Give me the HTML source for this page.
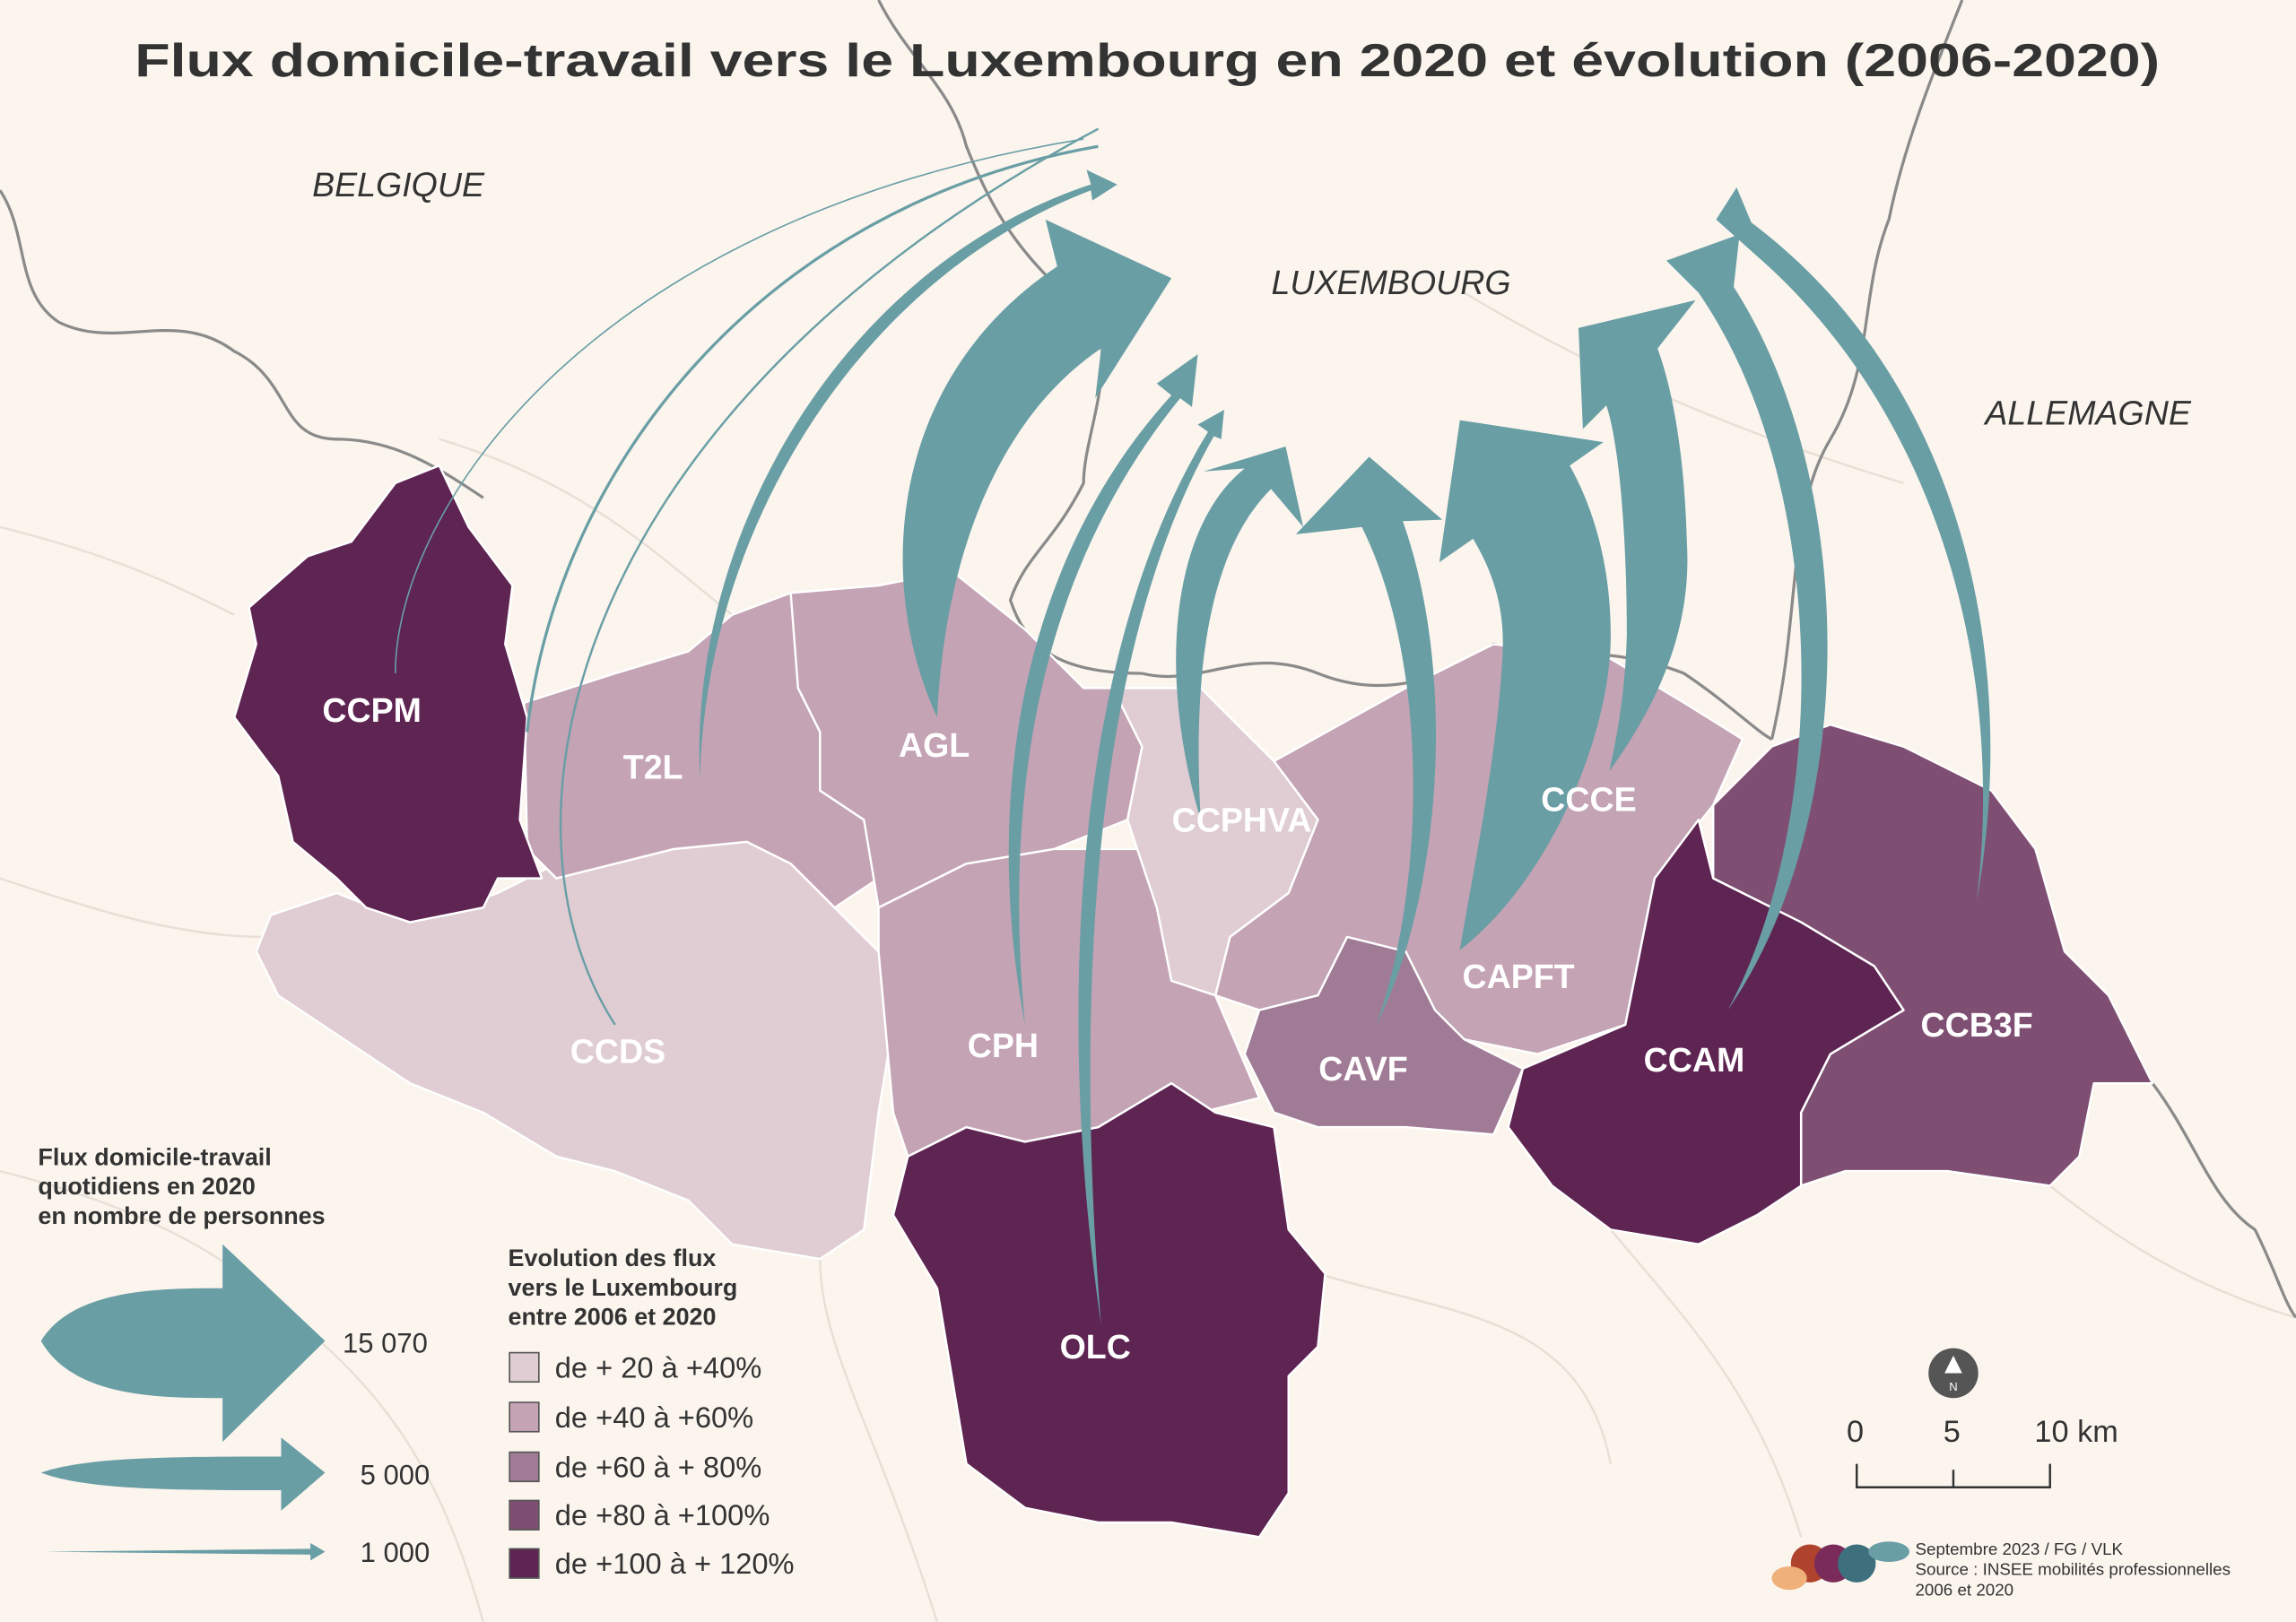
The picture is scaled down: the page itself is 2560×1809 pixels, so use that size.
<!DOCTYPE html>
<html><head><meta charset="utf-8"><style>
html,body{margin:0;padding:0;background:#fbf5ee}
svg{display:block}
text{font-family:"Liberation Sans",sans-serif}
</style></head><body>
<svg width="2560" height="1809" viewBox="0 0 1568 1108" xmlns="http://www.w3.org/2000/svg">
<rect width="1568" height="1108" fill="#fbf5ee"/>
<g fill="none" stroke="#e8e0d6" stroke-width="1.5">
<path d="M0,360 C80,380 120,400 160,420 M0,600 C60,620 120,640 180,640 M0,800 C80,820 150,850 200,900 M200,900 C260,950 300,1000 330,1108 M560,860 C560,920 600,980 640,1108 M900,870 C1000,900 1080,900 1100,1000 M1400,810 C1450,850 1500,880 1568,900 M1100,840 C1150,900 1200,950 1230,1050 M300,300 C400,330 450,380 500,420 M1000,200 C1100,260 1200,300 1300,330"/>
</g>
<g fill="none" stroke="#8a8a8a" stroke-width="2">
<path d="M0,130 C20,160 10,200 40,220 C80,240 120,210 160,240 C200,260 190,300 230,300 C270,300 300,320 330,340"/>
<path d="M600,0 C620,40 650,60 660,100 C680,150 700,180 750,220 C760,260 740,300 740,330 C720,370 700,380 690,410 C700,440 720,460 780,460"/>
<path d="M780,460 C820,470 850,440 900,460 C950,480 990,460 1020,440 C1060,450 1100,440 1150,460 C1180,480 1200,500 1210,505"/>
<path d="M1340,0 C1320,50 1300,100 1290,150 C1270,200 1280,250 1250,300 C1220,350 1230,420 1210,505"/>
<path d="M1470,740 C1500,780 1510,820 1540,840 C1555,870 1560,890 1568,900"/>
</g>
<g stroke="#fff" stroke-width="1.5" stroke-linejoin="round">
<path fill="#dfcdd3" d="M185,625 230,610 280,630 340,610 380,590 420,590 460,580 510,575 540,590 570,620 600,650 610,700 600,760 590,840 560,860 500,850 470,820 420,800 380,790 330,760 280,740 250,720 220,700 190,680 175,650Z"/>
<path fill="#c3a3b4" d="M358,480 420,460 470,445 500,420 540,405 560,420 545,470 560,500 560,540 590,560 600,600 570,620 540,590 510,575 460,580 420,590 380,600 360,580Z"/>
<path fill="#c3a3b4" d="M540,405 600,400 650,390 700,430 740,470 760,470 780,510 770,560 720,580 660,590 620,610 600,620 590,560 560,540 560,500 545,470Z"/>
<path fill="#c3a3b4" d="M600,620 660,590 720,580 790,580 820,620 830,680 860,750 820,760 800,740 750,770 700,780 660,770 620,790 610,760 600,650Z"/>
<path fill="#c3a3b4" d="M870,520 960,470 1020,440 1100,450 1150,480 1190,505 1170,550 1130,600 1120,650 1110,700 1050,720 1000,710 960,690 900,680 860,690 830,680 840,640 880,610 900,560Z"/>
<path fill="#dfcdd3" d="M760,470 820,470 870,520 900,560 880,610 840,640 830,680 800,670 790,620 770,560 780,510Z"/>
<path fill="#a07b95" d="M860,690 900,680 920,640 960,650 980,690 1000,710 1040,730 1020,775 960,770 900,770 870,760 850,720Z"/>
<path fill="#7f4f73" d="M1170,550 1210,510 1250,495 1300,510 1360,540 1390,580 1410,650 1440,680 1470,740 1430,740 1420,790 1400,810 1330,800 1260,800 1230,810 1230,760 1250,720 1300,690 1280,660 1230,630 1170,600Z"/>
<path fill="#5e2452" d="M1040,730 1110,700 1130,600 1160,560 1170,600 1230,630 1280,660 1300,690 1250,720 1230,760 1230,810 1200,830 1160,850 1100,840 1060,810 1030,770Z"/>
<path fill="#5e2452" d="M660,770 700,780 750,770 800,740 830,760 870,770 880,840 905,870 900,920 880,940 880,1020 860,1050 800,1040 750,1040 700,1030 660,1000 650,940 640,880 610,830 620,790Z"/>
<path fill="#5e2452" d="M270,330 300,318 320,360 350,400 345,440 360,490 355,560 370,600 340,600 330,620 280,630 250,620 230,600 200,575 190,530 160,490 175,440 170,415 210,380 240,370Z"/>
</g>
<g fill="#6a9ea5" stroke="none">
<path d="M640,490 C598,400 605,260 722,182 L714,150 L800,190 L748,272 L752,238 C682,285 645,380 640,490Z"/>
<path d="M997,649 C1060,600 1100,500 1100,434 C1100,390 1090,350 1072,318 L1095,302 L997,287 L983,384 L1006,368 C1022,395 1028,420 1026,450 C1022,520 1005,600 997,649Z"/>
<path d="M1099,527 C1140,470 1155,420 1152,370 C1150,300 1140,260 1132,238 L1158,205 L1078,224 L1081,293 L1097,277 C1105,300 1111,360 1111,434 C1110,470 1105,500 1099,527Z"/>
<path d="M940,700 C975,600 975,450 930,360 L885,365 L935,312 L985,355 L958,356 C995,460 985,610 940,700Z"/>
<path d="M820,560 C790,460 800,360 850,320 L822,322 L878,305 L890,360 L868,334 C822,380 815,470 820,560Z"/>
<path d="M1180,690 C1250,560 1250,330 1160,200 L1138,178 L1188,160 L1184,196 C1270,330 1270,560 1180,690Z"/>
<path d="M1350,615 C1370,450 1320,280 1200,175 L1172,150 L1186,128 L1196,152 C1340,260 1380,450 1350,615Z"/>
<path d="M700,700 C670,540 700,380 800,270 L790,262 L818,242 L814,278 L806,272 C710,390 685,540 700,700Z"/>
<path d="M752,905 C722,700 730,450 825,295 L818,290 L836,280 L834,300 L829,298 C742,450 735,700 752,905Z"/>
<path d="M478,532 C470,360 580,180 745,126 L742,116 L763,126 L746,137 L745,130 C588,190 482,360 478,532Z"/>
</g>
<g fill="none" stroke="#6a9ea5">
<path d="M360,500 C380,320 520,140 750,100" stroke-width="2"/>
<path d="M420,700 C330,560 390,280 750,88" stroke-width="1.5"/>
<path d="M270,460 C270,350 400,150 740,95" stroke-width="1"/>
</g>
<g fill="#fff" font-weight="bold" font-size="23" text-anchor="middle">
<text x="254" y="493">CCPM</text><text x="446" y="532">T2L</text><text x="638" y="517">AGL</text>
<text x="848" y="568">CCPHVA</text><text x="1085" y="554">CCCE</text><text x="1037" y="675">CAPFT</text>
<text x="685" y="722">CPH</text><text x="422" y="726">CCDS</text><text x="931" y="738">CAVF</text>
<text x="1157" y="732">CCAM</text><text x="1350" y="708">CCB3F</text><text x="748" y="928">OLC</text>
</g>
<g font-style="italic" font-size="23" fill="#333" text-anchor="middle">
<text x="272" y="134">BELGIQUE</text><text x="950" y="201">LUXEMBOURG</text><text x="1426" y="290">ALLEMAGNE</text>
</g>
<text x="92" y="52" textLength="1383" lengthAdjust="spacingAndGlyphs" font-size="32" font-weight="bold" fill="#333">Flux domicile-travail vers le Luxembourg en 2020 et évolution (2006-2020)</text>
<g font-size="16.5" font-weight="bold" fill="#333">
<text x="26" y="796">Flux domicile-travail</text><text x="26" y="816">quotidiens en 2020</text><text x="26" y="836">en nombre de personnes</text>
<text x="347" y="865">Evolution des flux</text><text x="347" y="885">vers le Luxembourg</text><text x="347" y="905">entre 2006 et 2020</text>
</g>
<g fill="#6a9ea5">
<path d="M28,916 C50,880 110,880 152,880 L152,850 L222,916 L152,985 L152,955 C110,955 50,955 28,916Z"/>
<path d="M28,1006 C60,995 120,995 192,995 L192,982 L222,1006 L192,1032 L192,1018 C120,1018 60,1018 28,1006Z"/>
<path d="M30,1060 L212,1058 L212,1054 L222,1060 L212,1066 L212,1062Z"/>
</g>
<g font-size="19" fill="#333">
<text x="234" y="924">15 070</text><text x="246" y="1014">5 000</text><text x="246" y="1067">1 000</text>
</g>
<g stroke="#555" stroke-width="1">
<rect x="348" y="924" width="20" height="20" fill="#dfcdd3"/>
<rect x="348" y="958" width="20" height="20" fill="#c3a3b4"/>
<rect x="348" y="992" width="20" height="20" fill="#a07b95"/>
<rect x="348" y="1025" width="20" height="20" fill="#7f4f73"/>
<rect x="348" y="1058" width="20" height="20" fill="#5e2452"/>
</g>
<g font-size="20" fill="#333">
<text x="379" y="941">de + 20 à +40%</text><text x="379" y="975">de +40 à +60%</text><text x="379" y="1009">de +60 à + 80%</text>
<text x="379" y="1042">de +80 à +100%</text><text x="379" y="1075">de +100 à + 120%</text>
</g>
<circle cx="1334" cy="938" r="17" fill="#555"/>
<path d="M1334,926 l-6,12 h12z" fill="#fff"/>
<text x="1334" y="950" font-size="8" fill="#fff" text-anchor="middle">N</text>
<g font-size="21" fill="#333" text-anchor="middle"><text x="1267" y="985">0</text><text x="1333" y="985">5</text><text x="1418" y="985">10 km</text></g>
<path d="M1268,1000 V1016 H1400 V1000 M1334,1004 V1016" stroke="#333" stroke-width="1.5" fill="none"/>
<circle cx="1236" cy="1068" r="13" fill="#b0432e"/><circle cx="1252" cy="1068" r="13" fill="#7b2b5a"/>
<circle cx="1268" cy="1068" r="13" fill="#3d6f7d"/><ellipse cx="1222" cy="1078" rx="12" ry="8" fill="#f0b07a"/>
<ellipse cx="1290" cy="1060" rx="14" ry="7" fill="#6a9ea5"/>
<g font-size="11.5" fill="#333"><text x="1308" y="1062">Septembre 2023 / FG / VLK</text><text x="1308" y="1076">Source : INSEE mobilités professionnelles</text><text x="1308" y="1090">2006 et 2020</text></g>
</svg>
</body></html>
